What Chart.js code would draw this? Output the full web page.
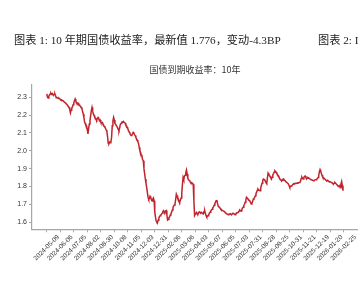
<!DOCTYPE html>
<html>
<head>
<meta charset="utf-8">
<script src="https://cdn.jsdelivr.net/npm/chart.js@4/dist/chart.umd.min.js"></script>
<style>
  html, body { margin:0; padding:0; background:#fff; width:359px; height:283px; overflow:hidden; }
  #wrap { position:relative; width:359px; height:283px; overflow:hidden; }
  canvas { position:absolute; left:0; top:0; }
  .hdr { position:absolute; top:32px; white-space:nowrap; font-family:"Liberation Serif","Noto Sans CJK SC",serif; font-size:11.2px; color:#222; line-height:16px; }
</style>
</head>
<body>
<div id="wrap">
  <canvas id="c" width="359" height="283"></canvas>
  <div class="hdr" id="h1" style="left:14px;">图表 1: 10 年期国债收益率，最新值 1.776，变动-4.3BP</div>
  <div class="hdr" id="h2" style="left:318px;">图表 2: I</div>
</div>
<script>
const chartTitle = '国债到期收益率：10年';
const xTickLabels = ['2024-05-09','2024-06-06','2024-07-05','2024-08-02','2024-08-30','2024-10-08','2024-11-05','2024-12-03','2024-12-31','2025-02-06','2025-03-06','2025-04-03','2025-05-07','2025-06-05','2025-07-03','2025-07-31','2025-08-28','2025-09-25','2025-10-31','2025-11-21','2025-12-19','2026-01-20','2026-02-25'];
const xTickStep = 20;
const yTickLabels = ['1.6','1.7','1.8','1.9','2.0','2.1','2.2','2.3'];
const yields = [
  2.318,2.300,2.295,2.305,2.312,2.318,2.322,2.316,2.320,2.314,
  2.312,2.315,2.318,2.308,2.296,2.298,2.295,2.292,2.294,2.290,
  2.288,2.284,2.285,2.282,2.280,2.276,2.272,2.270,2.266,2.262,
  2.258,2.252,2.248,2.243,2.230,2.212,2.228,2.238,2.245,2.258,
  2.268,2.280,2.290,2.278,2.270,2.268,2.262,2.265,2.258,2.252,
  2.248,2.243,2.235,2.220,2.206,2.185,2.160,2.152,2.140,2.138,
  2.120,2.094,2.125,2.150,2.170,2.196,2.225,2.243,2.222,2.206,
  2.198,2.188,2.182,2.178,2.172,2.182,2.186,2.178,2.168,2.172,
  2.160,2.155,2.158,2.150,2.146,2.138,2.132,2.125,2.116,2.108,
  2.080,2.042,2.040,2.048,2.044,2.050,2.075,2.140,2.168,2.187,
  2.172,2.152,2.148,2.140,2.135,2.128,2.118,2.112,2.128,2.148,
  2.152,2.160,2.162,2.160,2.162,2.158,2.155,2.145,2.140,2.132,
  2.125,2.112,2.105,2.098,2.090,2.085,2.088,2.095,2.103,2.098,
  2.090,2.085,2.075,2.066,2.060,2.050,2.040,2.018,2.000,1.990,
  1.978,1.968,1.950,1.944,1.900,1.872,1.842,1.818,1.795,1.768,
  1.740,1.728,1.732,1.745,1.738,1.725,1.718,1.728,1.735,1.720,
  1.660,1.630,1.608,1.600,1.597,1.610,1.620,1.632,1.636,1.640,
  1.645,1.650,1.660,1.665,1.658,1.654,1.662,1.665,1.640,1.612,
  1.615,1.625,1.630,1.640,1.648,1.656,1.668,1.682,1.690,1.696,
  1.702,1.728,1.757,1.748,1.735,1.730,1.718,1.712,1.722,1.735,
  1.760,1.810,1.850,1.838,1.858,1.862,1.878,1.892,1.870,1.845,
  1.838,1.835,1.830,1.822,1.815,1.820,1.818,1.812,1.720,1.637,
  1.645,1.650,1.655,1.648,1.645,1.652,1.658,1.655,1.650,1.655,
  1.652,1.648,1.646,1.660,1.664,1.650,1.638,1.630,1.632,1.636,
  1.642,1.650,1.656,1.662,1.668,1.672,1.680,1.685,1.695,1.702,
  1.712,1.720,1.724,1.705,1.690,1.686,1.682,1.678,1.672,1.668,
  1.666,1.664,1.662,1.660,1.656,1.652,1.648,1.646,1.644,1.642,
  1.645,1.646,1.648,1.644,1.642,1.646,1.650,1.648,1.645,1.642,
  1.646,1.650,1.652,1.654,1.656,1.662,1.668,1.665,1.662,1.670,
  1.678,1.683,1.692,1.700,1.712,1.725,1.739,1.735,1.730,1.726,
  1.722,1.718,1.710,1.702,1.705,1.715,1.728,1.733,1.738,1.748,
  1.760,1.768,1.778,1.786,1.782,1.778,1.776,1.790,1.805,1.818,
  1.832,1.842,1.840,1.836,1.828,1.820,1.815,1.850,1.875,1.868,
  1.862,1.856,1.848,1.842,1.852,1.866,1.872,1.880,1.888,1.884,
  1.880,1.872,1.866,1.860,1.852,1.845,1.840,1.836,1.830,1.835,
  1.840,1.842,1.836,1.832,1.828,1.824,1.822,1.818,1.814,1.805,
  1.796,1.798,1.802,1.805,1.808,1.812,1.815,1.814,1.816,1.818,
  1.818,1.818,1.820,1.819,1.822,1.823,1.828,1.845,1.852,1.845,
  1.842,1.850,1.856,1.858,1.850,1.842,1.846,1.850,1.848,1.845,
  1.842,1.840,1.838,1.836,1.834,1.832,1.834,1.835,1.838,1.838,
  1.840,1.844,1.850,1.860,1.882,1.894,1.884,1.872,1.862,1.852,
  1.850,1.846,1.842,1.838,1.834,1.832,1.835,1.832,1.828,1.826,
  1.826,1.824,1.823,1.820,1.815,1.814,1.818,1.822,1.818,1.814,
  1.810,1.806,1.800,1.802,1.805,1.792,1.815,1.828,1.805,1.776
];

const n = yields.length;
const margin = 0.05 * (n - 1);
const axisColor = '#a6a6a6';
const labelColor = '#333333';

new Chart(document.getElementById('c'), {
  type: 'line',
  data: {
    datasets: [{
      data: yields.map((v, i) => ({ x: i, y: v })),
      borderColor: '#c0242c',
      borderWidth: 1.5,
      pointRadius: 0,
      tension: 0,
      fill: false
    }]
  },
  options: {
    responsive: false,
    animation: false,
    devicePixelRatio: 1,
    layout: { padding: { left: 0, right: 1.2, top: 0, bottom: 0 } },
    plugins: {
      legend: { display: false },
      tooltip: { enabled: false },
      title: {
        display: true,
        fullSize: false,
        text: chartTitle,
        color: '#333',
        font: { family: '"Noto Sans CJK SC", sans-serif', size: 9, weight: 'normal', lineHeight: 1.2 },
        padding: { top: 64.5, bottom: 9.7 }
      }
    },
    scales: {
      x: {
        type: 'linear',
        min: -margin,
        max: (n - 1) + margin,
        afterBuildTicks(s) { s.ticks = xTickLabels.map((_, k) => ({ value: k * xTickStep })); },
        afterFit(s) { s.height = 53.7; s.paddingLeft = 0; s.paddingRight = 0; },
        ticks: {
          autoSkip: false,
          maxRotation: 45,
          minRotation: 45,
          labelOffset: 11.5,
          padding: 1,
          color: labelColor,
          font: { family: '"Liberation Sans", Arial, sans-serif', size: 6.5 },
          callback: (v, idx) => xTickLabels[idx]
        },
        grid: { display: true, drawOnChartArea: false, drawTicks: true, tickLength: 3, color: axisColor, lineWidth: 1 },
        border: { display: true, color: axisColor, width: 1.2 }
      },
      y: {
        type: 'linear',
        min: 1.560,
        max: 2.368,
        afterBuildTicks(s) { s.ticks = yTickLabels.map(t => ({ value: parseFloat(t) })); },
        afterFit(s) { s.width = 32; s.paddingTop = 0; s.paddingBottom = 0; },
        ticks: {
          padding: 2,
          color: labelColor,
          font: { family: '"Liberation Sans", Arial, sans-serif', size: 7 },
          callback: (v, idx) => yTickLabels[idx]
        },
        grid: { display: true, drawOnChartArea: false, drawTicks: true, tickLength: 3, color: axisColor, lineWidth: 1 },
        border: { display: true, color: axisColor, width: 1.2 }
      }
    }
  }
});
</script>
</body>
</html>
